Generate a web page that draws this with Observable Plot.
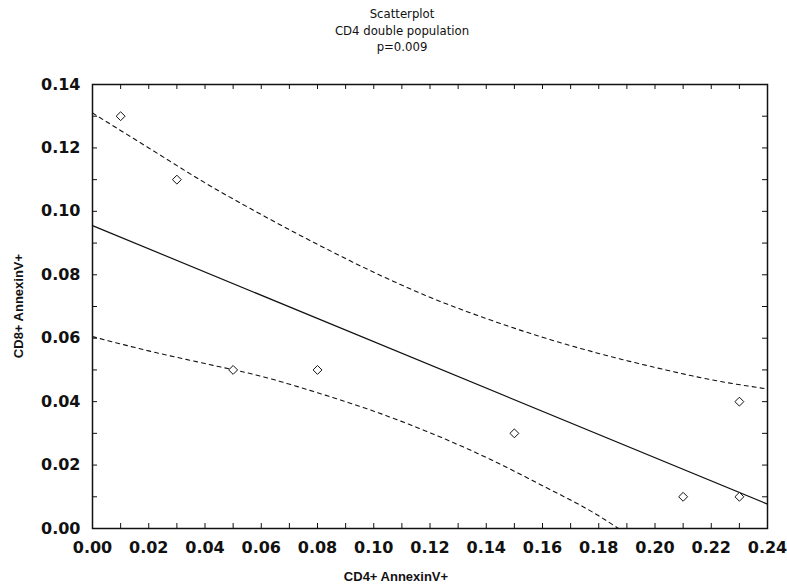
<!DOCTYPE html>
<html>
<head>
<meta charset="utf-8">
<script src="https://cdn.jsdelivr.net/npm/d3@7"></script>
<script src="https://cdn.jsdelivr.net/npm/@observablehq/plot@0.6"></script>
<style>
  html, body { margin: 0; padding: 0; background: #fff; }
  #chart svg { display: block; }
</style>
</head>
<body>
<div id="chart"></div>
<script>
// Title lines
const titleLines = ["Scatterplot", "CD4 double population", "p=0.009"];
const xLabel = "CD4+ AnnexinV+";
const yLabel = "CD8+ AnnexinV+";

// Observed points
const pointX = [0.01, 0.03, 0.05, 0.08, 0.15, 0.21, 0.23, 0.23];
const pointY = [0.13, 0.11, 0.05, 0.05, 0.03, 0.01, 0.01, 0.04];

// Regression line (endpoints)
const fitX = [0.0, 0.24];
const fitY = [0.0955, 0.0077];

// Confidence band
const upperX = [0.00, 0.02, 0.04, 0.06, 0.08, 0.10, 0.12, 0.14, 0.16, 0.18, 0.20, 0.22, 0.24];
const upperY = [0.131, 0.120, 0.109, 0.099, 0.0896, 0.0808, 0.0729, 0.0662, 0.0603, 0.0552, 0.0508, 0.0469, 0.0440];
const lowerX = [0.00, 0.02, 0.04, 0.06, 0.08, 0.10, 0.12, 0.14, 0.16, 0.18, 0.187];
const lowerY = [0.0605, 0.056, 0.052, 0.048, 0.0428, 0.0370, 0.0302, 0.0224, 0.0135, 0.0040, 0.0];

// Ticks
const xTicks = [0, 0.02, 0.04, 0.06, 0.08, 0.10, 0.12, 0.14, 0.16, 0.18, 0.20, 0.22, 0.24];
const yTicks = [0, 0.02, 0.04, 0.06, 0.08, 0.10, 0.12, 0.14];
const xMinor = [0.01, 0.02, 0.03, 0.04, 0.05, 0.06, 0.07, 0.08, 0.09, 0.10, 0.11, 0.12, 0.13, 0.14, 0.15, 0.16, 0.17, 0.18, 0.19, 0.20, 0.21, 0.22, 0.23];
const yMinor = [0.01, 0.02, 0.03, 0.04, 0.05, 0.06, 0.07, 0.08, 0.09, 0.10, 0.11, 0.12, 0.13];

const points = pointX.map((x, i) => ({x, y: pointY[i]}));
const fit = fitX.map((x, i) => ({x, y: fitY[i]}));
const upper = upperX.map((x, i) => ({x, y: upperY[i]}));
const lower = lowerX.map((x, i) => ({x, y: lowerY[i]}));

const ink = "#111";
const W = 787, H = 588, mL = 92, mR = 20, mT = 84, mB = 60;
const innerW = W - mL - mR, innerH = H - mT - mB;
const tl = 5; // inward tick length in px

const chart = Plot.plot({
  width: W,
  height: H,
  marginLeft: mL,
  marginRight: mR,
  marginTop: mT,
  marginBottom: mB,
  style: {fontFamily: "DejaVu Sans", background: "#fff", color: ink},
  x: {domain: [0, 0.24]},
  y: {domain: [0, 0.14]},
  marks: [
    // tick labels
    Plot.axisX({ticks: xTicks, tickSize: 0, tickPadding: 13, tickFormat: d => d.toFixed(2), label: null,
      fontSize: 16, fontWeight: "bold", fill: ink}),
    Plot.axisY({ticks: yTicks, tickSize: 0, tickPadding: 12, tickFormat: d => d.toFixed(2), label: null,
      fontSize: 16, fontWeight: "bold", fill: ink}),
    // inward ticks on all four sides
    Plot.tickX(xMinor, {x: d => d, insetTop: innerH - tl, stroke: ink, strokeWidth: 1}),
    Plot.tickX(xMinor, {x: d => d, insetBottom: innerH - tl, stroke: ink, strokeWidth: 1}),
    Plot.tickY(yMinor, {y: d => d, insetRight: innerW - tl, stroke: ink, strokeWidth: 1}),
    Plot.tickY(yMinor, {y: d => d, insetLeft: innerW - tl, stroke: ink, strokeWidth: 1}),
    Plot.frame({stroke: ink, strokeWidth: 1.5}),
    // confidence band
    Plot.line(upper, {x: "x", y: "y", stroke: ink, strokeWidth: 1.1, strokeDasharray: "4,4", curve: "monotone-x"}),
    Plot.line(lower, {x: "x", y: "y", stroke: ink, strokeWidth: 1.1, strokeDasharray: "4,4", curve: "monotone-x"}),
    // regression line
    Plot.line(fit, {x: "x", y: "y", stroke: ink, strokeWidth: 1.2}),
    // points
    Plot.dot(points, {x: "x", y: "y", symbol: "diamond2", r: 4, stroke: ink, strokeWidth: 1, fill: "#fff"})
  ]
});

document.getElementById("chart").appendChild(chart);

const svg = d3.select(chart);
titleLines.forEach((t, i) => {
  svg.append("text")
    .attr("x", 402).attr("y", 18 + i * 16.5)
    .attr("text-anchor", "middle")
    .attr("font-family", "DejaVu Sans Condensed")
    .attr("font-size", 13)
    .attr("fill", ink)
    .text(t);
});
svg.append("text")
  .attr("x", 396).attr("y", 581)
  .attr("text-anchor", "middle")
  .attr("font-family", "Liberation Sans")
  .attr("font-weight", "bold")
  .attr("font-size", 13)
  .attr("fill", ink)
  .text(xLabel);
svg.append("text")
  .attr("transform", "translate(23,306) rotate(-90)")
  .attr("text-anchor", "middle")
  .attr("font-family", "Liberation Sans")
  .attr("font-weight", "bold")
  .attr("font-size", 13)
  .attr("fill", ink)
  .text(yLabel);
</script>
</body>
</html>
